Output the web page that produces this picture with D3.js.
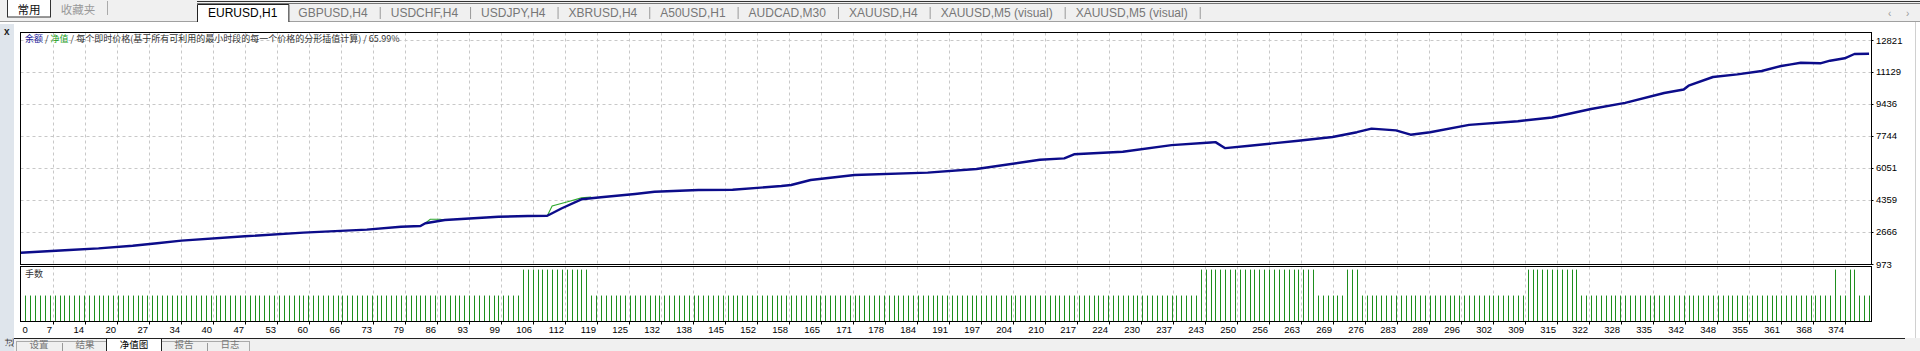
<!DOCTYPE html>
<html>
<head>
<meta charset="utf-8">
<script src="https://cdn.jsdelivr.net/npm/d3@7"></script>
<style>
body { margin: 0; background: #fff; overflow: hidden; }
svg text { font-family: "Liberation Sans", Arial, sans-serif; }
.cjk { font-family: "Noto Sans CJK SC", sans-serif; }
</style>
</head>
<body>
<svg id="chart" width="1920" height="351"></svg>
<script>
/* Data */
var tabNames = ['EURUSD,H1', 'GBPUSD,H4', 'USDCHF,H4', 'USDJPY,H4', 'XBRUSD,H4', 'A50USD,H1',
                'AUDCAD,M30', 'XAUUSD,H4', 'XAUUSD,M5 (visual)', 'XAUUSD,M5 (visual)'];
var bottomTabs = ['设置', '结果', '净值图', '报告', '日志'];
var legendParts = ['余额', '净值', '每个即时价格(基于所有可利用的最小时段的每一个价格的分形插值计算)', '65.99%'];

var yTickLabels = [973, 2666, 4359, 6051, 7744, 9436, 11129, 12821];
var xTickLabels = [0, 7, 14, 20, 27, 34, 40, 47, 53, 60, 66, 73, 79, 86, 93, 99, 106, 112, 119, 125,
                   132, 138, 145, 152, 158, 165, 171, 178, 184, 191, 197, 204, 210, 217, 224, 230, 237, 243, 250, 256,
                   263, 269, 276, 283, 289, 296, 302, 309, 315, 322, 328, 335, 342, 348, 355, 361, 368, 374];

// balance (blue) read at these trade numbers
var balanceTrade = [0, 10, 16, 23, 28, 33, 46, 58, 71, 78, 82, 83, 87, 98, 104, 108, 111, 115, 119, 126,
                    130, 139, 146, 156, 158, 162, 171, 186, 196, 209, 214, 216, 226, 236, 244, 245, 247, 252, 262, 269, 274,
                    277, 282, 285, 289, 297, 307, 314, 322, 329, 337, 341, 342, 347, 352, 357, 361, 363, 365, 369, 371, 374,
                    376, 379];
var balanceValue = [1570, 1715, 1800, 1940, 2070, 2210, 2440, 2630, 2790, 2946, 2980, 3126, 3300, 3470, 3510, 3525, 3920, 4395, 4500, 4675,
                    4797, 4887, 4900, 5098, 5150, 5416, 5680, 5807, 6000, 6484, 6560, 6775, 6907, 7262, 7400, 7420, 7100, 7230, 7489, 7690, 7944,
                    8134, 8039, 7812, 7944, 8330, 8526, 8722, 9171, 9494, 10017, 10200, 10403, 10864, 11000, 11181, 11445, 11535, 11620, 11588, 11726, 11853,
                    12080, 12096];

// equity (green) where it leaves the balance line
var equityTrade1 = [82, 83, 84, 86, 87];
var equityValue1 = [2980, 3126, 3337, 3340, 3300];
var equityTrade2 = [108, 109, 112, 115, 117];
var equityValue2 = [3525, 4040, 4250, 4470, 4520];

// lot size of trades 1..379 (x 0.01)
var lots = [
  1,1,1,1,1,1,1,1,1,1,1,1,1,1,1,1,1,1,1,1,
  1,1,1,1,1,1,1,1,1,1,1,1,1,1,1,1,1,1,1,1,
  1,1,1,1,1,1,1,1,1,1,1,1,1,1,1,1,1,1,1,1,
  1,1,1,1,1,1,1,1,1,1,1,1,1,1,1,1,1,1,1,1,
  1,1,1,1,1,1,1,1,1,1,1,1,1,1,1,1,1,1,1,1,
  1,1,2,2,2,2,2,2,2,2,2,2,2,2,2,2,1,1,1,1,
  1,1,1,1,1,1,1,1,1,1,1,1,1,1,1,1,1,1,1,1,
  1,1,1,1,1,1,1,1,1,1,1,1,1,1,1,1,1,1,1,1,
  1,1,1,1,1,1,1,1,1,1,1,1,1,1,1,1,1,1,1,1,
  1,1,1,1,1,1,1,1,1,1,1,1,1,1,1,1,1,1,1,1,
  1,1,1,1,1,1,1,1,1,1,1,1,1,1,1,1,1,1,1,1,
  1,1,1,1,1,1,1,1,1,1,1,1,1,1,1,1,1,1,1,1,
  1,2,2,2,2,2,2,2,2,2,2,2,2,2,2,2,2,2,2,2,
  2,2,2,2,2,1,1,1,1,1,1,2,2,2,1,1,1,1,1,1,
  1,1,1,1,1,1,1,1,1,1,1,1,1,1,1,1,1,1,1,1,
  1,1,1,1,1,1,1,1,2,2,2,2,2,2,2,2,2,2,2,1,
  1,1,1,1,1,1,1,1,1,1,1,1,1,1,1,1,1,1,1,1,
  1,1,1,1,1,1,1,1,1,1,1,1,1,1,1,1,1,1,1,1,
  1,1,1,1,1,1,1,1,1,1,1,2,1,1,2,2,1,1,1
];

/* Layout */
var svg = d3.select('#chart');
var left = 20.5, right = 1871.5,
    mainTop = 32.5, mainBottom = 264.5,
    volTop = 266.5, volBottom = 321.5;

var x = d3.scaleLinear().domain([0, 379.4]).range([left, right - 0.5]);
var y = d3.scaleLinear().domain([973, 12821]).range([mainBottom - 0.5, 40]);
var yVol = d3.scaleLinear().domain([0, 2.12]).range([volBottom, volTop]);

var tickPos = xTickLabels.map(function(d, i) { return i * 374 / 57; });

/* Top strip with tabs */
svg.append('rect').attr('x', 0).attr('y', 0).attr('width', 1920).attr('height', 22).attr('fill', '#f0f0f0');
svg.append('line').attr('x1', 197).attr('x2', 1920).attr('y1', 1.5).attr('y2', 1.5).attr('stroke', '#333');
svg.append('line').attr('x1', 197).attr('x2', 1920).attr('y1', 3.5).attr('y2', 3.5).attr('stroke', '#777');
svg.append('line').attr('x1', 0).attr('x2', 1920).attr('y1', 21.5).attr('y2', 21.5).attr('stroke', '#a0a0a0');

svg.append('rect').attr('x', 7.5).attr('y', -2).attr('width', 43).attr('height', 19)
    .attr('fill', '#fff').attr('stroke', '#333');
svg.append('text').attr('class', 'cjk').attr('x', 29).attr('y', 14).attr('text-anchor', 'middle')
    .attr('font-size', 11.5).attr('fill', '#111').text('常用');
svg.append('text').attr('class', 'cjk').attr('x', 78).attr('y', 14).attr('text-anchor', 'middle')
    .attr('font-size', 11.5).attr('fill', '#999').text('收藏夹');
svg.append('line').attr('x1', 107.5).attr('x2', 107.5).attr('y1', 1).attr('y2', 15).attr('stroke', '#aaa');

var tx = 197;
tabNames.forEach(function(name, i) {
  var t = svg.append('text').attr('y', 17).attr('font-size', 12)
      .attr('font-family', '"Noto Sans", sans-serif')
      .attr('fill', i === 0 ? '#000' : '#777').text(name);
  var w = t.node().getComputedTextLength();
  if (i === 0) {
    svg.insert('path', 'text')
      .attr('d', 'M' + (tx + 0.5) + ',22V4.5H' + (tx + w + 22.5) + 'V22')
      .attr('fill', '#fff').attr('stroke', '#222');
    t.attr('x', tx + 11);
    tx += w + 22 + 10;
  } else {
    t.attr('x', tx);
    tx += w + 12;
    svg.append('line').attr('x1', tx + 0.5).attr('x2', tx + 0.5).attr('y1', 7).attr('y2', 19).attr('stroke', '#999');
    tx += 11;
  }
});
svg.append('text').attr('x', 1888).attr('y', 17).attr('font-size', 10).attr('fill', '#999').text('‹');
svg.append('text').attr('x', 1906).attr('y', 17).attr('font-size', 10).attr('fill', '#999').text('›');

/* Left strip */
svg.append('rect').attr('x', 0).attr('y', 24).attr('width', 14).attr('height', 327).attr('fill', '#dfe5ec');
svg.append('text').attr('x', 4).attr('y', 35).attr('font-size', 10).attr('font-weight', 'bold').attr('fill', '#222').text('x');
svg.append('text').attr('class', 'cjk').attr('transform', 'translate(12.5,347) rotate(-90)')
    .attr('font-size', 9).attr('fill', '#333').text('过');
svg.append('line').attr('x1', 1915.5).attr('x2', 1915.5).attr('y1', 22).attr('y2', 338).attr('stroke', '#d0d0d0');

/* Grid */
var grid = svg.append('g').attr('stroke', '#c8c8c8').attr('stroke-dasharray', '3,3');
grid.selectAll('.vg').data(tickPos.slice(1)).enter().append('line')
    .attr('x1', function(d) { return Math.round(x(d)) + 0.5; })
    .attr('x2', function(d) { return Math.round(x(d)) + 0.5; })
    .attr('y1', mainTop).attr('y2', mainBottom);
grid.selectAll('.vg2').data(tickPos.slice(1)).enter().append('line')
    .attr('x1', function(d) { return Math.round(x(d)) + 0.5; })
    .attr('x2', function(d) { return Math.round(x(d)) + 0.5; })
    .attr('y1', volTop).attr('y2', volBottom);
grid.selectAll('.hg').data(yTickLabels.slice(1)).enter().append('line')
    .attr('x1', left).attr('x2', right)
    .attr('y1', function(d) { return Math.round(y(d)) + 0.5; })
    .attr('y2', function(d) { return Math.round(y(d)) + 0.5; });

/* Legend */
var lg = svg.append('text').attr('class', 'cjk').attr('x', 25).attr('y', 42).attr('font-size', 9);
lg.append('tspan').attr('fill', '#1a1a9a').text(legendParts[0]);
lg.append('tspan').attr('fill', '#333').text(' / ');
lg.append('tspan').attr('fill', '#1aa01a').text(legendParts[1]);
lg.append('tspan').attr('fill', '#333').text(' / ' + legendParts[2] + ' / ' + legendParts[3]);
svg.append('text').attr('class', 'cjk').attr('x', 25).attr('y', 277).attr('font-size', 9).attr('fill', '#333').text('手数');

/* Lines */
var line = d3.line().x(function(d) { return x(d[0]); }).y(function(d) { return y(d[1]); });
[[equityTrade1, equityValue1], [equityTrade2, equityValue2]].forEach(function(s) {
  svg.append('path').datum(d3.zip(s[0], s[1])).attr('d', line)
    .attr('fill', 'none').attr('stroke', '#2fa82f').attr('stroke-width', 1.1);
});
svg.append('path').datum(d3.zip(balanceTrade, balanceValue)).attr('d', line)
    .attr('fill', 'none').attr('stroke', '#0c0c8a').attr('stroke-width', 2.4).attr('stroke-linejoin', 'round');

/* Lots */
svg.append('g').selectAll('line').data(lots).enter().append('line')
    .attr('x1', function(d, i) { return Math.round(x(i + 1)) + 0.5; })
    .attr('x2', function(d, i) { return Math.round(x(i + 1)) + 0.5; })
    .attr('y1', function(d) { return yVol(d); }).attr('y2', volBottom)
    .attr('stroke', '#1e8e1e').attr('stroke-width', 1);

/* Frames */
svg.append('rect').attr('x', left).attr('y', mainTop).attr('width', right - left).attr('height', mainBottom - mainTop)
    .attr('fill', 'none').attr('stroke', '#000');
svg.append('rect').attr('x', left).attr('y', volTop).attr('width', right - left).attr('height', volBottom - volTop)
    .attr('fill', 'none').attr('stroke', '#000');

/* Axes */
var ya = svg.append('g').attr('font-size', 9.5);
ya.selectAll('text').data(yTickLabels).enter().append('text')
    .attr('x', 1876).attr('y', function(d) { return y(d) + 3.5; }).text(function(d) { return d; });
ya.selectAll('line').data(yTickLabels).enter().append('line')
    .attr('x1', right).attr('x2', right + 2)
    .attr('y1', function(d) { return Math.round(y(d)) + 0.5; })
    .attr('y2', function(d) { return Math.round(y(d)) + 0.5; }).attr('stroke', '#000');

var xa = svg.append('g').attr('font-size', 9.5);
xa.selectAll('text').data(tickPos).enter().append('text')
    .attr('x', function(d, i) { return i === 0 ? left + 2 : Math.round(x(d)) - 1; })
    .attr('text-anchor', function(d, i) { return i === 0 ? 'start' : 'end'; })
    .attr('y', 333).text(function(d, i) { return xTickLabels[i]; });
xa.selectAll('line').data(tickPos.slice(1)).enter().append('line')
    .attr('x1', function(d) { return Math.round(x(d)) + 0.5; })
    .attr('x2', function(d) { return Math.round(x(d)) + 0.5; })
    .attr('y1', volBottom).attr('y2', volBottom + 3).attr('stroke', '#000');

/* Bottom tabs */
svg.append('rect').attr('x', 14).attr('y', 338).attr('width', 1906).attr('height', 13).attr('fill', '#f0f0f0');
svg.append('line').attr('x1', 14).attr('x2', 1905).attr('y1', 338.5).attr('y2', 338.5).attr('stroke', '#222');
svg.append('rect').attr('x', 16.5).attr('y', 341.5).attr('width', 90).attr('height', 14).attr('fill', '#f0f0f0').attr('stroke', '#aaa');
svg.append('rect').attr('x', 161.5).attr('y', 341.5).attr('width', 88).attr('height', 14).attr('fill', '#f0f0f0').attr('stroke', '#aaa');
svg.append('rect').attr('x', 106.5).attr('y', 338.5).attr('width', 55).attr('height', 16).attr('fill', '#fff').attr('stroke', '#222');
var bx = [39, 85, 134, 184, 230];
bottomTabs.forEach(function(name, i) {
  svg.append('text').attr('class', 'cjk').attr('x', bx[i]).attr('y', 348).attr('text-anchor', 'middle')
    .attr('font-size', 9.5).attr('fill', i === 2 ? '#000' : '#777').text(name);
});
svg.append('line').attr('x1', 62.5).attr('x2', 62.5).attr('y1', 343).attr('y2', 351).attr('stroke', '#999');
svg.append('line').attr('x1', 207.5).attr('x2', 207.5).attr('y1', 343).attr('y2', 351).attr('stroke', '#999');
</script>
</body>
</html>
